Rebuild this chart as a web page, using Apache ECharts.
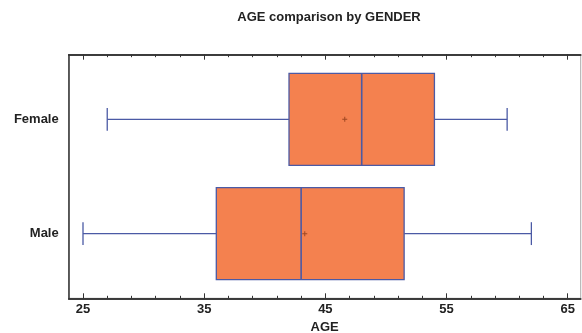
<!DOCTYPE html>
<html>
<head>
<meta charset="utf-8">
<script src="https://cdn.jsdelivr.net/npm/echarts@6/dist/echarts.min.js"></script>
<style>
  html, body { margin: 0; padding: 0; background: #fff; }
  #main { width: 582px; height: 333px; }
</style>
</head>
<body>
<div id="main"></div>
<script>
// groups: y = 0 is Male, y = 1 is Female
const groups = ['Male', 'Female']
const whiskerLow = [25, 27]
const q1 = [36, 42]
const median = [43, 48]
const q3 = [51.5, 54]
const whiskerHigh = [62, 60]
const means = [43.3, 46.6]

const majorTicks = [25, 35, 45, 55, 65]
const minorTicks = [25, 27, 29, 31, 33, 35, 37, 39, 41, 43, 45, 47, 49, 51, 53, 55, 57, 59, 61, 63, 65]

const font = 'Liberation Sans, Arial, sans-serif'
const boxFill = '#f4814f'
const boxLine = '#4b5aa5'

let boxData = []
let meanData = []
for (let i = 0; i < groups.length; i++) {
  boxData.push([i, whiskerLow[i], q1[i], median[i], q3[i], whiskerHigh[i]])
  meanData.push([means[i], i])
}

function renderBox (params, api) {
  let y = api.value(0)
  let lo = api.coord([api.value(1), y])
  let b1 = api.coord([api.value(2), y])
  let md = api.coord([api.value(3), y])
  let b3 = api.coord([api.value(4), y])
  let hi = api.coord([api.value(5), y])
  let half = api.size([0, 0.4025])[1]
  let cap = api.size([0, 0.1])[1]
  let cy = lo[1]
  let lineStyle = { stroke: boxLine, lineWidth: 1.3, fill: null }
  return {
    type: 'group',
    children: [
      { type: 'line', shape: { x1: lo[0], y1: cy, x2: b1[0], y2: cy }, style: lineStyle },
      { type: 'line', shape: { x1: b3[0], y1: cy, x2: hi[0], y2: cy }, style: lineStyle },
      { type: 'line', shape: { x1: lo[0], y1: cy - cap, x2: lo[0], y2: cy + cap }, style: lineStyle },
      { type: 'line', shape: { x1: hi[0], y1: cy - cap, x2: hi[0], y2: cy + cap }, style: lineStyle },
      {
        type: 'rect',
        shape: { x: b1[0], y: cy - half, width: b3[0] - b1[0], height: half * 2 },
        style: { fill: boxFill, stroke: boxLine, lineWidth: 1.3 }
      },
      { type: 'line', shape: { x1: md[0], y1: cy - half, x2: md[0], y2: cy + half }, style: { stroke: boxLine, lineWidth: 1.6 } }
    ]
  }
}

function xAxisDef (pos, ticks, len, showLabel) {
  return {
    type: 'value',
    position: pos,
    min: 23.82,
    max: 66.07,
    axisLine: { show: true, onZero: false, lineStyle: { color: '#333', width: 1.5 } },
    splitLine: { show: false },
    axisTick: { show: true, inside: true, length: len, customValues: ticks, lineStyle: { color: '#333', width: 1 } },
    axisLabel: {
      show: showLabel,
      customValues: majorTicks,
      margin: 5,
      color: '#222',
      fontFamily: font,
      fontWeight: 'bold',
      fontSize: 13
    }
  }
}

let myChart = echarts.init(document.getElementById('main'))
let bottomMajor = xAxisDef('bottom', majorTicks, 5, true)
bottomMajor.name = 'AGE'
bottomMajor.nameLocation = 'middle'
bottomMajor.nameGap = 20
bottomMajor.nameTextStyle = { color: '#222', fontFamily: font, fontWeight: 'bold', fontSize: 13 }

let option = {
  animation: false,
  title: {
    text: 'AGE comparison by GENDER',
    left: 324,
    textAlign: 'center',
    top: 6,
    textStyle: { color: '#222', fontFamily: font, fontWeight: 'bold', fontSize: 13 }
  },
  grid: {
    left: 68.7,
    right: 1.3,
    top: 54.7,
    bottom: 34.7,
    containLabel: false,
    outerBoundsMode: 'none',
    show: true,
    borderColor: '#aaa',
    borderWidth: 1
  },
  xAxis: [
    bottomMajor,
    xAxisDef('bottom', minorTicks, 2.5, false),
    xAxisDef('top', majorTicks, 5, false),
    xAxisDef('top', minorTicks, 2.5, false)
  ],
  yAxis: {
    type: 'value',
    min: -0.566,
    max: 1.566,
    axisLine: { show: true, onZero: false, lineStyle: { color: '#333', width: 1.5 } },
    axisTick: { show: false },
    splitLine: { show: false },
    axisLabel: {
      customValues: [0, 1],
      formatter: function (v) { return groups[Math.round(v)] },
      margin: 10,
      color: '#222',
      fontFamily: font,
      fontWeight: 'bold',
      fontSize: 13
    }
  },
  series: [
    {
      type: 'custom',
      renderItem: renderBox,
      encode: { x: [1, 2, 3, 4, 5], y: 0 },
      data: boxData,
      z: 2
    },
    {
      type: 'scatter',
      symbol: 'path://M2 0h1v5h-1zM0 2h5v1h-5z',
      symbolSize: 5,
      itemStyle: { color: '#8a3a18' },
      data: meanData,
      z: 5
    }
  ]
}
myChart.setOption(option)
</script>
</body>
</html>
